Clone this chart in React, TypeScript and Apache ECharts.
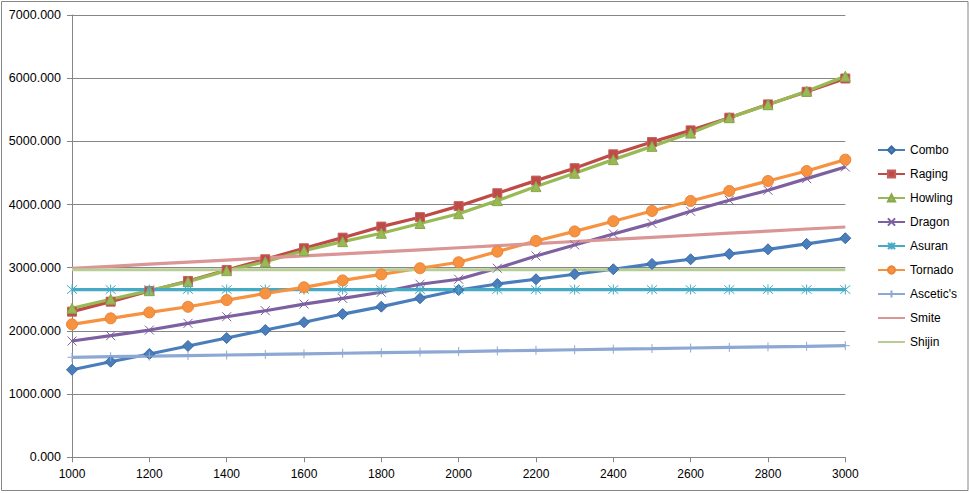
import React, { useEffect, useRef } from "react";
import * as echarts from "echarts";

const xLabels = [
  "1000", "1100", "1200", "1300", "1400", "1500", "1600", "1700", "1800", "1900", "2000",
  "2100", "2200", "2300", "2400", "2500", "2600", "2700", "2800", "2900", "3000",
];

const combo = [1385, 1513, 1635, 1762, 1888, 2014, 2137, 2267, 2384, 2517, 2648, 2743, 2818, 2897, 2976, 3060, 3134, 3218, 3292, 3377, 3467];
const raging = [2305, 2463, 2633, 2791, 2965, 3134, 3308, 3476, 3651, 3800, 3975, 4179, 4379, 4575, 4795, 4989, 5174, 5375, 5585, 5785, 5995];
const howling = [2358, 2501, 2637, 2780, 2954, 3096, 3270, 3413, 3546, 3700, 3855, 4062, 4284, 4496, 4711, 4921, 5131, 5375, 5580, 5795, 6030];
const dragon = [1840, 1925, 2014, 2120, 2225, 2320, 2425, 2515, 2612, 2739, 2818, 2992, 3187, 3361, 3535, 3702, 3894, 4068, 4226, 4410, 4594];
const asuran = [2655, 2655, 2655, 2655, 2655, 2655, 2655, 2655, 2655, 2655, 2655, 2655, 2655, 2655, 2655, 2655, 2655, 2655, 2655, 2655, 2655];
const tornado = [2104, 2199, 2293, 2382, 2488, 2594, 2690, 2800, 2895, 2992, 3087, 3255, 3424, 3575, 3737, 3899, 4057, 4215, 4373, 4531, 4711];
const ascetics = [1583, 1592, 1601, 1610, 1619, 1628, 1638, 1647, 1656, 1665, 1674, 1684, 1693, 1702, 1711, 1720, 1730, 1739, 1748, 1757, 1767];
const smite = [2990, 3023, 3056, 3089, 3122, 3155, 3188, 3221, 3250, 3283, 3316, 3349, 3382, 3415, 3448, 3481, 3514, 3547, 3580, 3613, 3645];
const shijin = [2968, 2968, 2968, 2968, 2968, 2968, 2968, 2968, 2968, 2968, 2968, 2968, 2968, 2968, 2968, 2968, 2968, 2968, 2968, 2968, 2968];

const FONT = "'Liberation Sans', Arial, sans-serif";
const GRAY = "#868686";

const X_PATH = "path://M0,0L10,10M10,0L0,10";
const STAR_PATH = "path://M0,0L10,10M10,0L0,10M5,-1L5,11";
const PLUS_PATH = "path://M5,0L5,10M0,5L10,5";

type Cfg = {
  name: string;
  data: number[];
  color: string;
  symbol: string;
  size: number;
  fill?: string;
  border?: string;
  bw?: number;
};

const seriesCfg: Cfg[] = [
  { name: "Combo", data: combo, color: "#4A7EBB", symbol: "diamond", size: 11, border: "#3A6AA5", bw: 1 },
  { name: "Raging", data: raging, color: "#BE4B48", symbol: "rect", size: 9, border: "#C45F5C", bw: 1 },
  { name: "Howling", data: howling, color: "#98B954", symbol: "triangle", size: 10, border: "#88A84A", bw: 1 },
  { name: "Dragon", data: dragon, color: "#7D60A0", symbol: X_PATH, size: 9, fill: "transparent", border: "#7D60A0", bw: 1 },
  { name: "Asuran", data: asuran, color: "#46AAC5", symbol: STAR_PATH, size: 10, fill: "transparent", border: "#46AAC5", bw: 1 },
  { name: "Tornado", data: tornado, color: "#F69240", symbol: "circle", size: 11, border: "#E8863A", bw: 1 },
  { name: "Ascetic's", data: ascetics, color: "#8EA8D4", symbol: PLUS_PATH, size: 9, fill: "transparent", border: "#8EA8D4", bw: 1 },
  { name: "Smite", data: smite, color: "#D99694", symbol: "none", size: 0 },
  { name: "Shijin", data: shijin, color: "#B9CD96", symbol: "none", size: 0 },
];

export default function App() {
  const ref = useRef<HTMLDivElement>(null);

  useEffect(() => {
    if (!ref.current) return;
    const chart = echarts.init(ref.current, undefined, { renderer: "svg" });
    const series = seriesCfg.map((c) => ({
      name: c.name,
      type: "line",
      data: c.data,
      symbol: c.symbol,
      symbolSize: c.size,
      showSymbol: c.symbol !== "none",
      lineStyle: { color: c.color, width: 3.2 },
      itemStyle: {
        color: c.fill ?? c.color,
        borderColor: c.border ?? c.color,
        borderWidth: c.bw ?? 0,
      },
      emphasis: { disabled: true },
    }));

    chart.setOption({
      animation: false,
      textStyle: { fontFamily: FONT },
      grid: { left: 72, right: 124.7, top: 15, bottom: 35.7, containLabel: false },
      xAxis: {
        type: "category",
        data: xLabels,
        boundaryGap: false,
        axisLine: { lineStyle: { color: GRAY, width: 1 } },
        axisTick: { show: true, interval: 1, length: 5, inside: false, lineStyle: { color: GRAY } },
        axisLabel: { interval: 1, color: "#000", fontSize: 12, fontFamily: FONT, margin: 11 },
        splitLine: { show: false },
      },
      yAxis: {
        type: "value",
        min: 0,
        max: 7000,
        interval: 1000,
        axisLine: { show: true, lineStyle: { color: GRAY, width: 1 } },
        axisTick: { show: true, length: 5, lineStyle: { color: GRAY } },
        axisLabel: {
          color: "#000",
          fontSize: 12.5,
          fontFamily: FONT,
          margin: 11,
          formatter: (v: number) => v.toFixed(3),
        },
        splitLine: { show: true, lineStyle: { color: GRAY, width: 1 } },
      },
      legend: {
        orient: "vertical",
        left: 877,
        top: 143,
        padding: 0,
        itemWidth: 27,
        itemHeight: 9,
        itemGap: 10,
        textStyle: { color: "#000", fontSize: 12, fontFamily: FONT, lineHeight: 14 },
        data: seriesCfg.map((c) =>
          c.symbol === "none" ? { name: c.name, itemStyle: { opacity: 0 } } : { name: c.name }
        ),
      },
      graphic: [
        {
          type: "rect",
          shape: { x: 1.5, y: 1.5, width: 966.5, height: 489 },
          style: { fill: "none", stroke: GRAY, lineWidth: 1 },
          silent: true,
        },
      ],
      series,
    });
    return () => chart.dispose();
  }, []);

  return (
    <div
      ref={ref}
      style={{ position: "absolute", left: 0, top: 0, width: 970, height: 493, background: "#fff" }}
    />
  );
}
